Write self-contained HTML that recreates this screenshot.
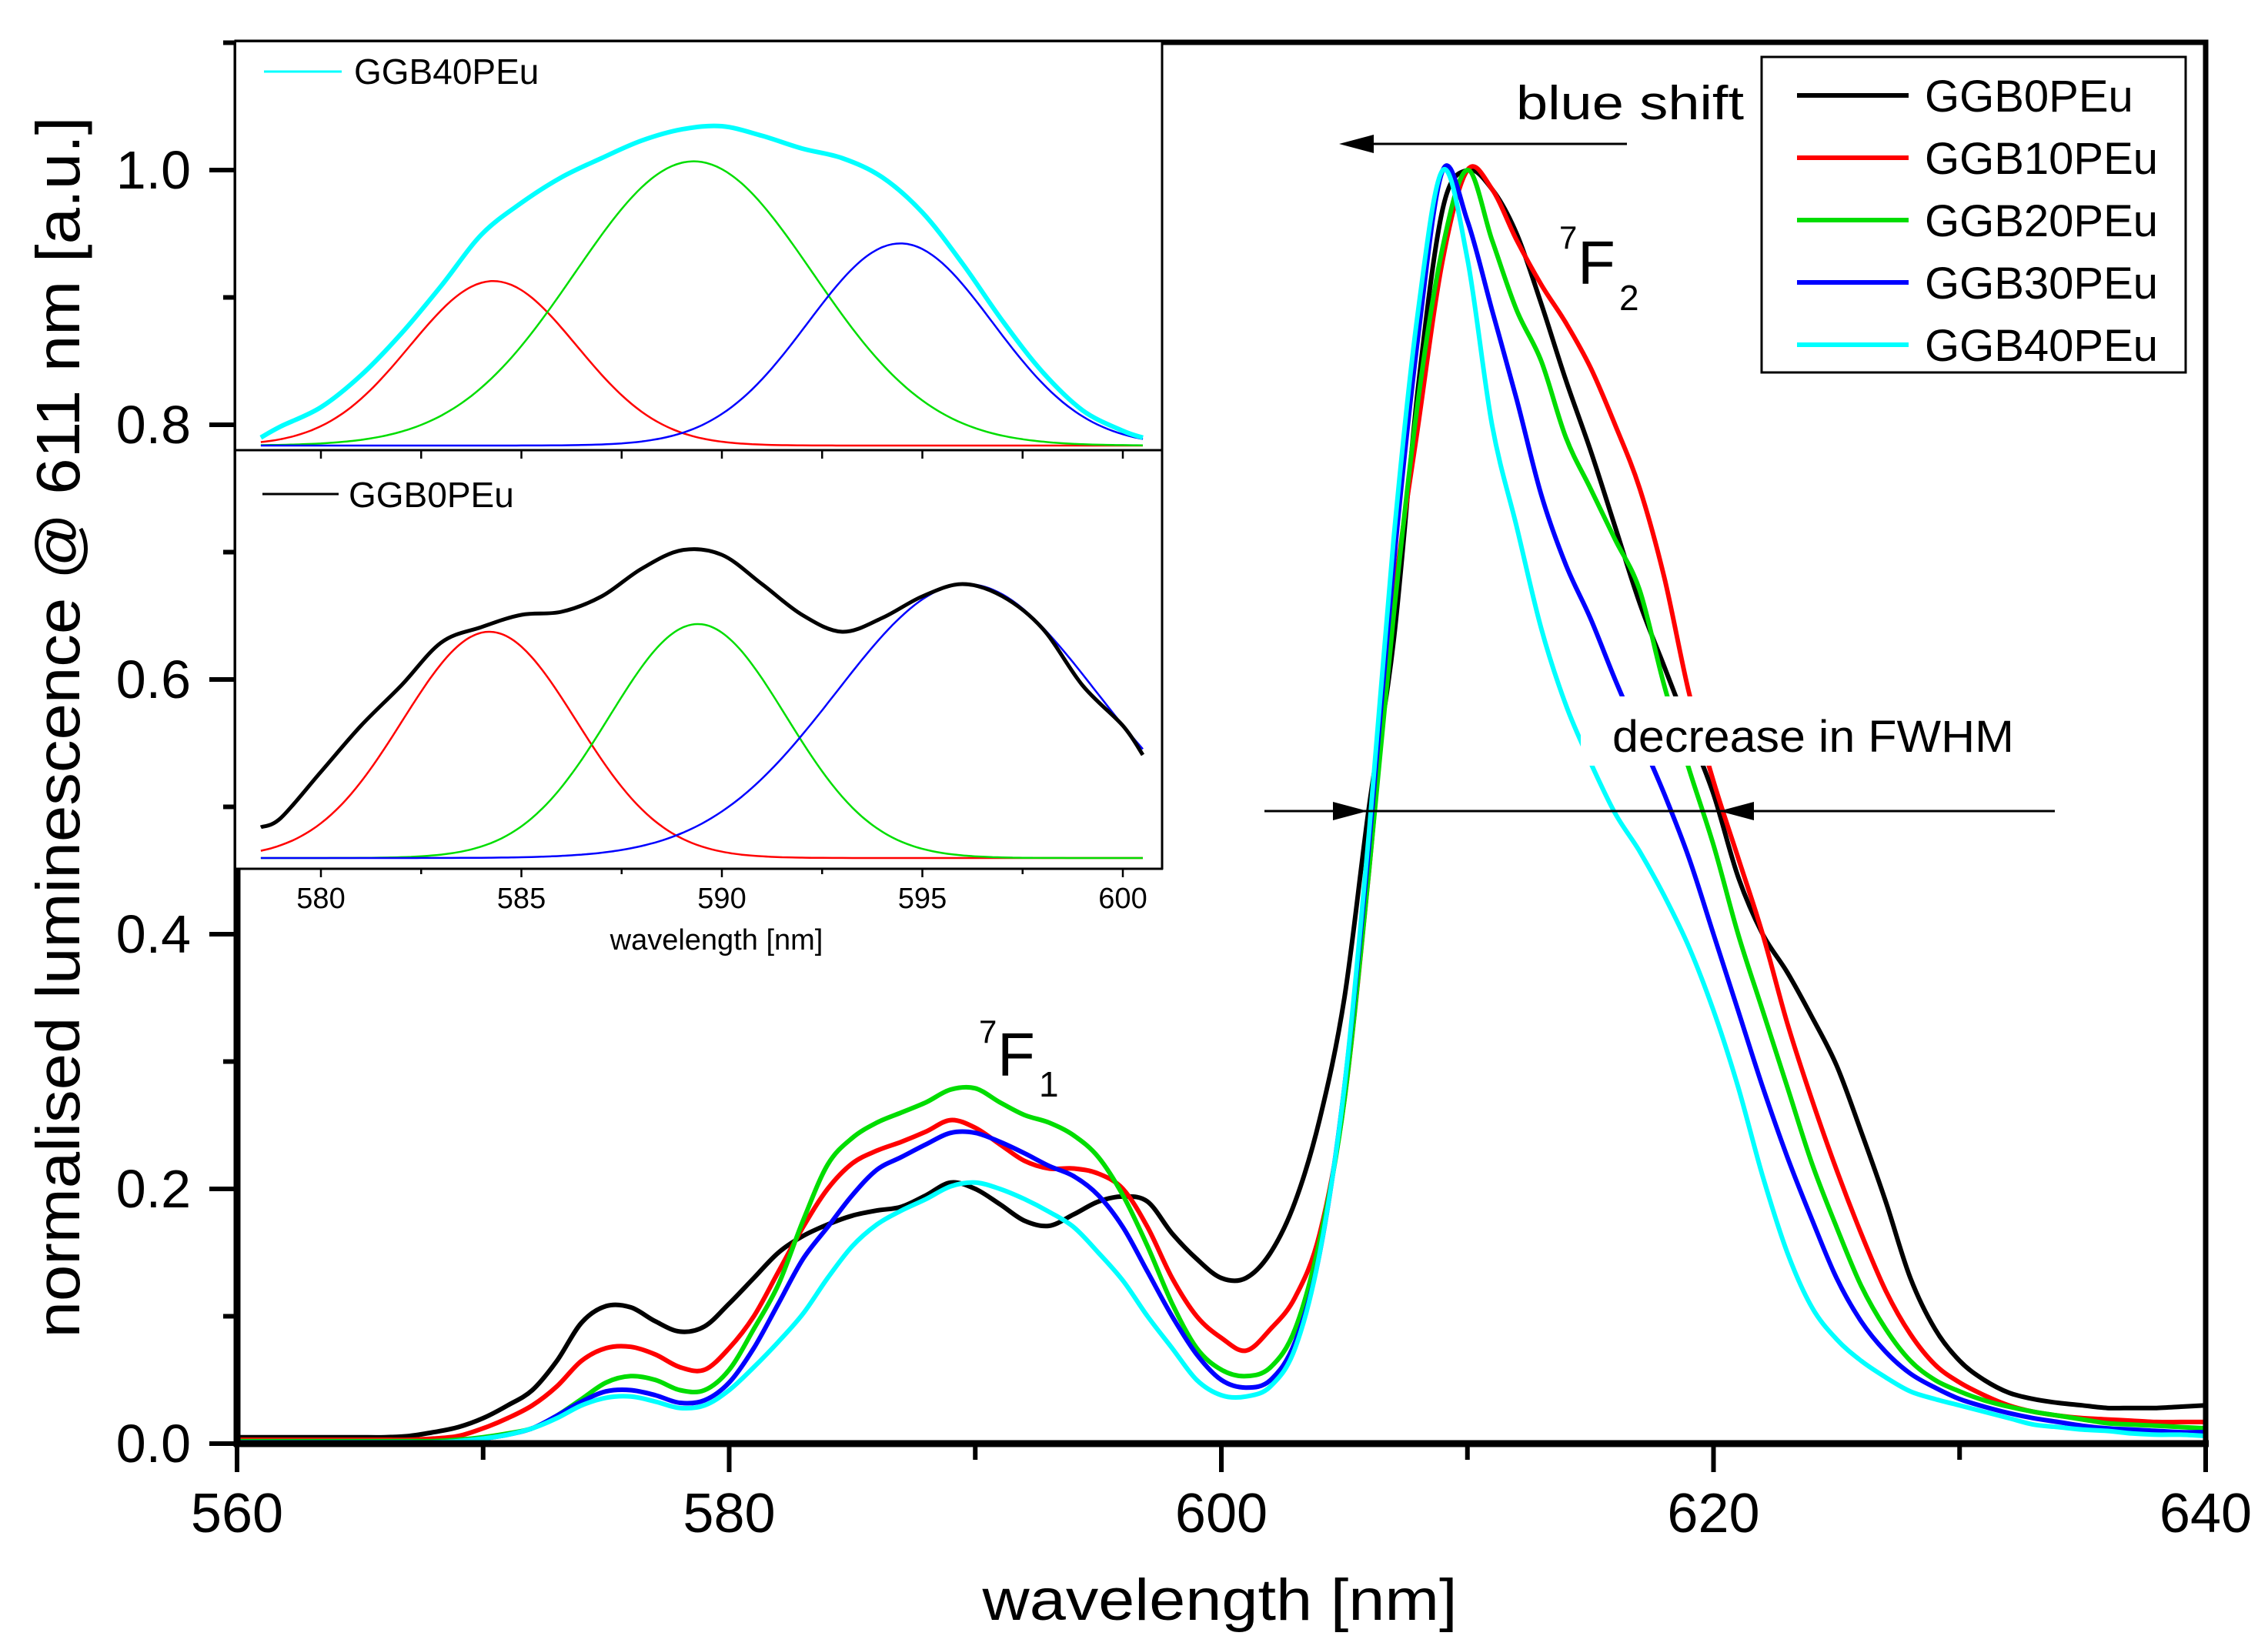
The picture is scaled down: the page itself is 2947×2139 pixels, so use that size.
<!DOCTYPE html>
<html><head><meta charset="utf-8">
<style>
html,body{margin:0;padding:0;background:#fff;}
svg{display:block;font-family:"Liberation Sans",Arial,sans-serif;}
</style></head>
<body>
<svg id="chart" width="2947" height="2139" viewBox="0 0 2947 2139" xmlns="http://www.w3.org/2000/svg">
<rect x="0" y="0" width="2947" height="2139" fill="#fff"/>
<g id="main-curves"></g>
<rect x="2054" y="905" width="572" height="90" fill="#fff"/>
<g id="axes"></g>
<g id="inset"></g>
<g id="annot">
  <text x="1970" y="155" font-size="62" textLength="296" lengthAdjust="spacingAndGlyphs">blue shift</text>
  <line x1="1780" y1="187" x2="2114" y2="187" stroke="#000" stroke-width="3"/>
  <polygon points="1740,187 1785,175 1785,199" fill="#000"/>
  <text x="2026" y="323" font-size="42">7</text>
  <text x="2050" y="369" font-size="80">F</text>
  <text x="2104" y="403" font-size="46">2</text>
  <text x="1272" y="1355" font-size="42">7</text>
  <text x="1296" y="1398" font-size="80">F</text>
  <text x="1350" y="1425" font-size="46">1</text>
  <text x="2095" y="977" font-size="58" textLength="522" lengthAdjust="spacingAndGlyphs">decrease in FWHM</text>
  <line x1="1643" y1="1054" x2="2670" y2="1054" stroke="#000" stroke-width="3"/>
  <polygon points="1777,1054 1732,1042 1732,1066" fill="#000"/>
  <polygon points="2234,1054 2279,1042 2279,1066" fill="#000"/>
</g>
<g id="legend">
  <rect x="2289" y="74" width="551" height="410" fill="#fff" stroke="#000" stroke-width="3"/>
</g>
</svg>
<script>
// ---------- main chart data ----------
const wavelengths = [];
for (let w = 560; w <= 640; w++) wavelengths.push(w);
const seriesNames = ["GGB0PEu","GGB10PEu","GGB20PEu","GGB30PEu","GGB40PEu"];
const seriesColors = ["#000000","#ff0000","#00dd00","#0000ff","#00ffff"];
const ggb0 = [.005,.005,.005,.005,.005,.005,.005,.006,.009,.013,
 .02,.03,.042,.065,.095,.108,.107,.096,.088,.092,
 .11,.13,.15,.163,.172,.179,.183,.186,.195,.205,
 .2,.188,.175,.171,.18,.19,.194,.19,.165,.145,
 .13,.13,.15,.19,.255,.35,.50,.63,.83,.97,
 1.0,.985,.95,.895,.835,.78,.72,.66,.61,.56,
 .51,.445,.40,.37,.335,.297,.245,.19,.13,.09,
 .065,.05,.04,.035,.032,.03,.028,.028,.028,.029,.03];
const ggb10 = [.003,.003,.003,.003,.003,.003,.003,.003,.004,.006,
 .012,.02,.03,.045,.065,.075,.076,.07,.06,.058,
 .075,.10,.135,.17,.2,.22,.23,.237,.245,.254,
 .248,.235,.222,.216,.216,.212,.2,.17,.13,.10,
 .083,.073,.09,.115,.165,.27,.45,.66,.80,.93,
 1.0,.985,.945,.91,.88,.845,.80,.75,.68,.59,
 .52,.46,.40,.33,.27,.215,.165,.12,.086,.062,
 .048,.038,.03,.025,.022,.02,.019,.018,.017,.017,.017];
const ggb20 = [.002,.002,.002,.002,.002,.002,.002,.002,.002,.003,
 .005,.008,.012,.022,.035,.048,.053,.05,.042,.042,
 .058,.09,.125,.175,.219,.24,.252,.26,.268,.278,
 .279,.268,.258,.252,.242,.225,.195,.155,.11,.075,
 .058,.053,.06,.09,.16,.27,.45,.65,.82,.94,
 1.0,.945,.89,.85,.79,.75,.71,.67,.595,.53,
 .47,.40,.34,.28,.22,.17,.124,.09,.065,.05,
 .041,.034,.029,.025,.022,.019,.016,.015,.014,.013,.012];
const ggb30 = [.001,.001,.001,.001,.001,.001,.001,.001,.001,.002,
 .004,.007,.012,.022,.033,.041,.042,.038,.032,.034,
 .048,.075,.11,.145,.17,.195,.215,.225,.235,.244,
 .244,.237,.228,.218,.21,.195,.17,.135,.1,.07,
 .05,.044,.05,.08,.15,.28,.47,.69,.87,1.0,
 .96,.89,.82,.745,.69,.648,.60,.555,.51,.46,
 .40,.34,.28,.225,.176,.13,.096,.072,.055,.044,
 .035,.029,.024,.02,.017,.014,.012,.011,.01,.009,.009];
const ggb40 = [.001,.001,.001,.001,.001,.001,.001,.001,.001,.002,
 .004,.007,.012,.02,.03,.036,.037,.033,.028,.03,
 .042,.06,.08,.102,.13,.155,.172,.183,.192,.202,
 .205,.2,.192,.182,.17,.15,.128,.1,.075,.05,
 .038,.037,.045,.075,.15,.28,.48,.71,.89,1.0,
 .93,.80,.72,.64,.58,.535,.495,.465,.43,.39,
 .34,.28,.21,.15,.107,.082,.065,.052,.041,.035,
 .03,.025,.02,.015,.013,.011,.01,.008,.007,.007,.006];
const xTicks = [560,580,600,620,640];
const yTicks = [0,0.2,0.4,0.6,0.8,1.0];
const yTickLabels = ["0.0","0.2","0.4","0.6","0.8","1.0"];

// ---------- inset data ----------
const insetX = [578.5,579,580,581,582,583,584,585,586,587,588,589,590,591,592,593,594,595,596,597,598,599,600,600.5];
const insetTopTotal = [.025,.06,.12,.22,.35,.50,.66,.76,.84,.90,.955,.99,1.0,.97,.93,.90,.84,.73,.57,.39,.23,.11,.046,.025];
const insetBotTotal = [.10,.13,.28,.43,.56,.70,.75,.79,.80,.85,.94,1.0,.985,.89,.79,.735,.78,.85,.89,.85,.745,.56,.43,.335];
const topCenters = [584.3,589.3,594.45];
const topAmps = [0.515,0.89,0.633];
const topWidths = [2.08,2.97,2.31];
const botCenters = [584.2,589.4,596.1];
const botAmps = [0.735,0.76,0.89];
const botWidths = [2.17,2.2,3.24];
const compColors = ["#ff0000","#00dd00","#0000ff"];
const insetTicks = [580,585,590,595,600];

const NS = "http://www.w3.org/2000/svg";
function mk(tag, attrs, parent){const e=document.createElementNS(NS,tag);for(const k in attrs)e.setAttribute(k,attrs[k]);parent.appendChild(e);return e;}
const xMain = v => 308 + (v-560)*31.975;
const yMain = v => 1876 - v*1655;
const xI = v => 417 + (v-580)*52.1;
const yTop = v => 579 - v*415;
const yBot = v => 1115 - v*400;

function smoothPath(pts){
  let d = "M"+pts[0][0].toFixed(1)+","+pts[0][1].toFixed(1);
  for(let i=0;i<pts.length-1;i++){
    const p0=pts[Math.max(0,i-1)],p1=pts[i],p2=pts[i+1],p3=pts[Math.min(pts.length-1,i+2)];
    const c1x=p1[0]+(p2[0]-p0[0])/6,c1y=p1[1]+(p2[1]-p0[1])/6;
    const c2x=p2[0]-(p3[0]-p1[0])/6,c2y=p2[1]-(p3[1]-p1[1])/6;
    d+=" C"+c1x.toFixed(1)+","+c1y.toFixed(1)+" "+c2x.toFixed(1)+","+c2y.toFixed(1)+" "+p2[0].toFixed(1)+","+p2[1].toFixed(1);
  }
  return d;
}

// main curves
const mc=document.getElementById("main-curves");
const allSeries=[ggb0,ggb10,ggb20,ggb30,ggb40];
allSeries.forEach((s,i)=>{
  const pts=wavelengths.map((w,j)=>[xMain(w),yMain(s[j])]);
  const p=mk("path",{d:smoothPath(pts),fill:"none",stroke:seriesColors[i],"stroke-width":6,"stroke-linejoin":"round"},mc);
  
  
});

// axes
const ax=document.getElementById("axes");
const frame=mk("rect",{x:308,y:55,width:2558,height:1821,fill:"none",stroke:"#000","stroke-width":7},ax);


const xl=mk("line",{x1:304,y1:1876,x2:2870,y2:1876,stroke:"#000","stroke-width":9},ax);


const yl=mk("line",{x1:308,y1:55,x2:308,y2:1880,stroke:"#000","stroke-width":9},ax);


for(let w=560;w<=640;w+=10){
  const major=xTicks.includes(w);
  const t=mk("line",{x1:xMain(w),y1:1876,x2:xMain(w),y2:major?1913:1897,stroke:"#000","stroke-width":6},ax);
  
  
}
xTicks.forEach(w=>{
  const t=mk("text",{x:xMain(w),y:1991,"font-size":72,"text-anchor":"middle"},ax);
  t.textContent=String(w);
  
  
});
for(let k=0;k<=11;k++){
  const v=k/10;const major=(k%2===0);
  const t=mk("line",{x1:major?272:290,y1:yMain(v),x2:308,y2:yMain(v),stroke:"#000","stroke-width":6},ax);
  
  
}
yTicks.forEach((v,i)=>{
  const t=mk("text",{x:248,y:yMain(v)+24,"font-size":70,"text-anchor":"end"},ax);
  t.textContent=yTickLabels[i];
  
  
});
const xt=mk("text",{x:1585,y:2105,"font-size":76,"text-anchor":"middle",textLength:617,lengthAdjust:"spacingAndGlyphs"},ax);
xt.textContent="wavelength [nm]";


const yt=mk("text",{x:0,y:0,"font-size":80,"text-anchor":"middle",textLength:1587,lengthAdjust:"spacingAndGlyphs",transform:"translate(103,945) rotate(-90)"},ax);
yt.textContent="normalised luminescence @ 611 nm [a.u.]";



// legend
const lg=document.getElementById("legend");
seriesNames.forEach((n,i)=>{
  const y=124+i*81;
  const l=mk("line",{x1:2335,y1:y,x2:2480,y2:y,stroke:seriesColors[i],"stroke-width":6},lg);
  
  
  const t=mk("text",{x:2501,y:y+21,"font-size":58},lg);
  t.textContent=n;
  
  
});

// inset
const ins=document.getElementById("inset");
const bg=mk("rect",{x:307,y:55,width:1203,height:1074,fill:"#fff"},ins);


function gauss(x,c,a,s){return a*Math.exp(-(x-c)*(x-c)/(2*s*s));}
function compPts(c,a,s,yf){const p=[];for(let x=578.5;x<=600.51;x+=0.25)p.push([xI(x),yf(gauss(x,c,a,s))]);return p;}
topCenters.forEach((c,i)=>{
  const p=mk("path",{d:smoothPath(compPts(c,topAmps[i],topWidths[i],yTop)),fill:"none",stroke:compColors[i],"stroke-width":2.5},ins);
  
  
});
const tt=mk("path",{d:smoothPath(insetX.map((x,j)=>[xI(x),yTop(insetTopTotal[j])])),fill:"none",stroke:"#00ffff","stroke-width":6},ins);


botCenters.forEach((c,i)=>{
  const p=mk("path",{d:smoothPath(compPts(c,botAmps[i],botWidths[i],yBot)),fill:"none",stroke:compColors[i],"stroke-width":2.5},ins);
  
  
});
const bt=mk("path",{d:smoothPath(insetX.map((x,j)=>[xI(x),yBot(insetBotTotal[j])])),fill:"none",stroke:"#000","stroke-width":5},ins);


// inset frame
const f1=mk("line",{x1:307,y1:585,x2:1510,y2:585,stroke:"#000","stroke-width":3},ins);


const f2=mk("line",{x1:1510,y1:55,x2:1510,y2:1130,stroke:"#000","stroke-width":3},ins);


const f3=mk("line",{x1:307,y1:1129,x2:1511,y2:1129,stroke:"#000","stroke-width":3},ins);


for(let w=580;w<=600;w+=2.5){
  const major=insetTicks.includes(w);
  const t=mk("line",{x1:xI(w),y1:1129,x2:xI(w),y2:major?1140:1136,stroke:"#000","stroke-width":2.5},ins);
  
  
  const t2=mk("line",{x1:xI(w),y1:585,x2:xI(w),y2:596,stroke:"#000","stroke-width":2.5},ins);
  
  
}
insetTicks.forEach(w=>{
  const t=mk("text",{x:xI(w),y:1180,"font-size":38,"text-anchor":"middle"},ins);
  t.textContent=String(w);
  
  
});
const it=mk("text",{x:931,y:1234,"font-size":38,"text-anchor":"middle"},ins);
it.textContent="wavelength [nm]";


const il1=mk("line",{x1:343,y1:93,x2:444,y2:93,stroke:"#00ffff","stroke-width":3},ins);


const itx1=mk("text",{x:460,y:109,"font-size":46},ins);
itx1.textContent="GGB40PEu";


const il2=mk("line",{x1:341,y1:642,x2:440,y2:642,stroke:"#000","stroke-width":3},ins);


const itx2=mk("text",{x:453,y:659,"font-size":46},ins);
itx2.textContent="GGB0PEu";


</script>
</body></html>
